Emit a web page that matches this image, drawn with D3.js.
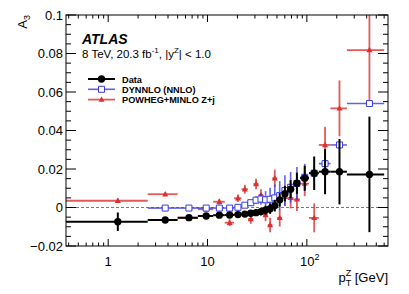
<!DOCTYPE html>
<html>
<head>
<meta charset="utf-8">
<script src="https://cdn.jsdelivr.net/npm/d3@7"></script>
<style>
  body { margin: 0; background: #fff; }
  svg { display: block; font-family: "Liberation Sans", Arial, Helvetica, sans-serif; }
</style>
</head>
<body>
<script>
'use strict';

// pT(Z) bin edges [GeV]
const binEdges = [0, 2.5, 5, 8, 11.4, 14.9, 18.5, 22, 25.5, 29, 32.6, 36.4, 40.4,
  44.9, 50.2, 56.4, 63.9, 73.4, 85.4, 105, 132, 173, 253, 600];

// Measured A3
const dataVals = [-0.0074, -0.0065, -0.0053, -0.0044, -0.0040, -0.0039, -0.0037, -0.0034,
  -0.0030, -0.0027, -0.0021, -0.0014, -0.0006, 0.0010, 0.0040, 0.0072, 0.0095, 0.0126,
  0.0152, 0.0178, 0.0186, 0.0186, 0.0172];
const dataErrs = [0.0048, 0.0012, 0.0010, 0.0010, 0.0010, 0.0011, 0.0012, 0.0013, 0.0015,
  0.0017, 0.0020, 0.0023, 0.0027, 0.0030, 0.0035, 0.0040, 0.0047, 0.0055, 0.0065, 0.0087,
  0.0117, 0.0170, 0.0300];

// DYNNLO (NNLO), no first bin
const dynnloVals = [null, -0.0003, -0.0003, -0.0003, -0.0003, -0.0003, 0.0001, 0.0012,
  0.0025, 0.0038, 0.0044, 0.0040, 0.0043, 0.0050, 0.0062, 0.0088, 0.0105, 0.0125, 0.0157,
  0.0178, 0.0228, 0.0325, 0.0540];
const dynnloErrs = [null, 0.0003, 0.0003, 0.0003, 0.0003, 0.0003, 0.0003, 0.0010, 0.0015,
  0.0020, 0.0030, 0.0045, 0.0060, 0.0070, 0.0075, 0.0080, 0.0080, 0.0085, 0.0070, 0.0040,
  0.0020, 0.0012, 0.0010];

// POWHEG+MINLO Z+j
const powhegVals = [0.0035, 0.0069, -0.0055, -0.0009, 0.0030, -0.0079, 0.0048, 0.0095,
  -0.0060, 0.0122, 0.0065, -0.0039, -0.0091, 0.0152, -0.0054, 0.0056, 0.0050, 0.0042,
  0.0124, -0.0054, 0.0325, 0.0515, 0.0818];
const powhegErrs = [0.0012, 0.0010, 0.0012, 0.0013, 0.0015, 0.0018, 0.0020, 0.0023, 0.0025,
  0.0027, 0.0030, 0.0032, 0.0038, 0.0045, 0.0045, 0.0050, 0.0055, 0.0060, 0.0065, 0.0075,
  0.0095, 0.0145, 0.0270];

// Axis ticks
const yMajorTicks = [-0.02, 0, 0.02, 0.04, 0.06, 0.08, 0.1];
const xMajorTicks = [1, 10, 100];
const xTickLabels = [
  { v: 1, base: '1' },
  { v: 10, base: '10' },
  { v: 100, base: '10', exp: '2' }
];

const legendItems = [
  { name: 'Data', key: 'data' },
  { name: 'DYNNLO (NNLO)', key: 'dynnlo' },
  { name: 'POWHEG+MINLO Z+j', key: 'powheg' }
];

const styles = {
  data: { color: '#000', width: 2, opacity: 1 },
  dynnlo: { color: '#3a3ae0', width: 1.6, opacity: 0.8 },
  powheg: { color: '#dc2f2f', width: 1.8, opacity: 0.8 }
};

const W = 409, H = 294;
const frame = { left: 66, right: 388, top: 15, bottom: 246 };

const x = d3.scaleLog().domain([0.376, 656]).range([frame.left, frame.right]);
const y = d3.scaleLinear().domain([-0.02, 0.1]).range([frame.bottom, frame.top]);

const svg = d3.select('body').append('svg')
  .attr('width', W)
  .attr('height', H)
  .attr('viewBox', `0 0 ${W} ${H}`);

svg.append('clipPath').attr('id', 'plot-clip')
  .append('rect')
  .attr('x', frame.left).attr('y', frame.top)
  .attr('width', frame.right - frame.left)
  .attr('height', frame.bottom - frame.top);

// Zero line
svg.append('line')
  .attr('x1', frame.left).attr('x2', frame.right)
  .attr('y1', y(0)).attr('y2', y(0))
  .attr('stroke', '#777').attr('stroke-width', 1)
  .attr('stroke-dasharray', '3,2');

// Build per-bin rows for a series
const rows = (vals, errs) => vals.map((v, i) => ({
  v, e: errs[i],
  lo: Math.max(binEdges[i], x.domain()[0]),
  hi: binEdges[i + 1],
  c: (binEdges[i] + binEdges[i + 1]) / 2
})).filter(d => d.v !== null);

const plot = svg.append('g').attr('clip-path', 'url(#plot-clip)');

// Marker shapes
const marker = (sel, key) => {
  if (key === 'data') {
    sel.attr('d', d3.symbol(d3.symbolCircle, 42)()).attr('fill', '#000');
  } else if (key === 'dynnlo') {
    sel.attr('d', 'M-3,-3H3V3H-3Z').attr('fill', '#fff')
      .attr('stroke', styles.dynnlo.color).attr('stroke-width', 1);
  } else {
    sel.attr('d', 'M0,-3.2L3,2.2H-3Z').attr('fill', styles.powheg.color);
  }
};

const drawSeries = (key, vals, errs) => {
  const st = styles[key];
  const g = plot.append('g').attr('class', key);
  const d = rows(vals, errs);

  g.selectAll('line.h').data(d).enter().append('line')
    .attr('class', 'h')
    .attr('x1', b => x(b.lo)).attr('x2', b => x(b.hi))
    .attr('y1', b => y(b.v)).attr('y2', b => y(b.v))
    .attr('stroke', st.color).attr('stroke-width', st.width)
    .attr('stroke-opacity', st.opacity);

  g.selectAll('line.v').data(d).enter().append('line')
    .attr('class', 'v')
    .attr('x1', b => x(b.c)).attr('x2', b => x(b.c))
    .attr('y1', b => y(b.v - b.e)).attr('y2', b => y(b.v + b.e))
    .attr('stroke', st.color).attr('stroke-width', st.width)
    .attr('stroke-opacity', st.opacity);

  g.selectAll('path.m').data(d).enter().append('path')
    .attr('class', 'm')
    .attr('transform', b => `translate(${x(b.c)},${y(b.v)})`)
    .call(marker, key);
};

drawSeries('powheg', powhegVals, powhegErrs);
drawSeries('dynnlo', dynnloVals, dynnloErrs);
drawSeries('data', dataVals, dataErrs);

// Frame
svg.append('rect')
  .attr('x', frame.left).attr('y', frame.top)
  .attr('width', frame.right - frame.left)
  .attr('height', frame.bottom - frame.top)
  .attr('fill', 'none').attr('stroke', '#000').attr('stroke-width', 1);

// Y ticks (inside, both sides)
const yMinor = y.ticks(24).filter(t => !yMajorTicks.some(m => Math.abs(m - t) < 1e-9));
const tickG = svg.append('g').attr('stroke', '#000').attr('stroke-width', 1);
[[frame.left, 1], [frame.right, -1]].forEach(([x0, dir]) => {
  tickG.selectAll(null).data(yMajorTicks).enter().append('line')
    .attr('x1', x0).attr('x2', x0 + dir * 10)
    .attr('y1', d => y(d)).attr('y2', d => y(d));
  tickG.selectAll(null).data(yMinor).enter().append('line')
    .attr('x1', x0).attr('x2', x0 + dir * 5)
    .attr('y1', d => y(d)).attr('y2', d => y(d));
});

// X ticks (log minor ticks, inside, bottom and top)
const xMinor = [];
[0.1, 1, 10, 100].forEach(dec => {
  for (let k = 2; k <= 9; k++) {
    const t = dec * k;
    if (t >= x.domain()[0] && t <= x.domain()[1]) xMinor.push(t);
  }
});
[[frame.bottom, -1], [frame.top, 1]].forEach(([y0, dir]) => {
  tickG.selectAll(null).data(xMajorTicks).enter().append('line')
    .attr('x1', d => x(d)).attr('x2', d => x(d))
    .attr('y1', y0).attr('y2', y0 + dir * 7);
  tickG.selectAll(null).data(xMinor).enter().append('line')
    .attr('x1', d => x(d)).attr('x2', d => x(d))
    .attr('y1', y0).attr('y2', y0 + dir * 3.5);
});

// Y tick labels
svg.append('g').selectAll('text').data(yMajorTicks).enter().append('text')
  .attr('x', frame.left - 3)
  .attr('y', d => y(d) + 4.5)
  .attr('text-anchor', 'end')
  .attr('font-size', 13)
  .text(d => d3.format('~g')(d));

// X tick labels
const xl = svg.append('g').selectAll('text').data(xTickLabels).enter().append('text')
  .attr('x', d => x(d.v) + (d.exp ? 3 : 0))
  .attr('y', 266)
  .attr('text-anchor', 'middle')
  .attr('font-size', 13);
xl.append('tspan').text(d => d.base);
xl.filter(d => d.exp).append('tspan')
  .attr('font-size', 9).attr('dy', -6).text(d => d.exp);

// Axis titles
const yt = svg.append('text')
  .attr('transform', 'translate(27,15) rotate(-90)')
  .attr('text-anchor', 'end')
  .attr('font-size', 13);
yt.append('tspan').text('A');
yt.append('tspan').attr('font-size', 9).attr('dy', 3).text('3');

const xt = svg.append('text')
  .attr('x', frame.right).attr('y', 282)
  .attr('text-anchor', 'end')
  .attr('font-size', 13);
xt.append('tspan').text('p');
xt.append('tspan').attr('font-size', 9).attr('dy', 4).text('T');
xt.append('tspan').attr('font-size', 9).attr('dx', -5.5).attr('dy', -10).text('Z');
xt.append('tspan').attr('dy', 6).text(' [GeV]');

// ATLAS label
svg.append('text')
  .attr('x', 82).attr('y', 43.5)
  .attr('font-size', 14).attr('font-weight', 'bold').attr('font-style', 'italic')
  .text('ATLAS');

const info = svg.append('text')
  .attr('x', 82).attr('y', 58)
  .attr('font-size', 11.5);
info.append('tspan').text('8 TeV, 20.3 fb');
info.append('tspan').attr('font-size', 8).attr('dy', -5).text('-1');
info.append('tspan').attr('dy', 5).text(', |y');
info.append('tspan').attr('font-size', 8).attr('dy', -5).text('Z');
info.append('tspan').attr('dy', 5).text('| < 1.0');

// Legend
const lg = svg.append('g').selectAll('g').data(legendItems).enter().append('g')
  .attr('transform', (d, i) => `translate(0,${79 + i * 10.3})`);
lg.append('line')
  .attr('x1', 88).attr('x2', 115)
  .attr('stroke', d => styles[d.key].color)
  .attr('stroke-width', d => styles[d.key].width)
  .attr('stroke-opacity', d => styles[d.key].opacity);
lg.append('path')
  .attr('transform', 'translate(101.5,0)')
  .each(function (d) { d3.select(this).call(marker, d.key); });
lg.append('text')
  .attr('x', 122).attr('y', 3.5)
  .attr('font-size', 9.2).attr('font-weight', 'bold')
  .text(d => d.name);
</script>
</body>
</html>
